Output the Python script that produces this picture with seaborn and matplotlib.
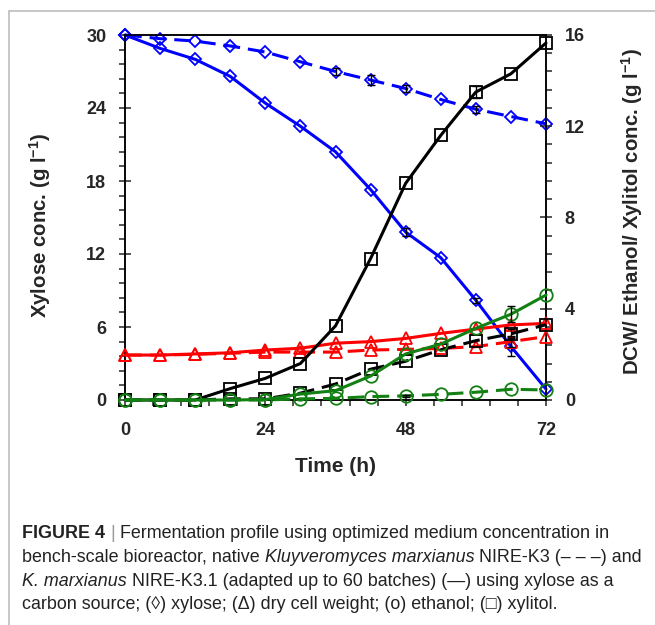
import numpy as np
import pandas as pd
import matplotlib
matplotlib.use("Agg")
import matplotlib.pyplot as plt
import seaborn as sns
from matplotlib.ticker import MultipleLocator
from matplotlib.lines import Line2D

# sampling times (h)
time = [0, 6, 12, 18, 24, 30, 36, 42, 48, 54, 60, 66, 72]

# xylose (left axis, g/l)
xylose_adapted = [30.0, 28.9, 28.0, 26.6, 24.4, 22.5, 20.4, 17.3, 13.8, 11.7, 8.2, 4.4, 0.9]
xylose_native = [30.0, 29.7, 29.5, 29.1, 28.6, 27.8, 27.0, 26.3, 25.6, 24.7, 23.9, 23.3, 22.7]
# xylitol / dcw / ethanol (right axis, g/l)
xylitol_adapted = [0, 0, 0, 0.5, 0.95, 1.6, 3.25, 6.2, 9.5, 11.6, 13.5, 14.3, 15.65]
xylitol_native = [0, 0, 0, 0.05, 0.05, 0.3, 0.7, 1.35, 1.7, 2.2, 2.6, 2.9, 3.3]
dcw_adapted = [1.97, 1.97, 2.02, 2.07, 2.19, 2.27, 2.49, 2.56, 2.7, 2.92, 3.11, 3.29, 3.36]
dcw_native = [1.97, 1.97, 2.0, 2.05, 2.1, 2.1, 2.1, 2.19, 2.22, 2.26, 2.34, 2.56, 2.78]
ethanol_adapted = [0, 0, 0, 0, 0.02, 0.26, 0.41, 1.05, 2.02, 2.45, 3.14, 3.76, 4.6]
ethanol_native = [0, 0, 0, 0, 0, 0.05, 0.07, 0.15, 0.18, 0.25, 0.34, 0.47, 0.44]

# standard deviations (only a few visible)
xylose_adapted_err = [0, 0, 0, 0, 0, 0, 0, 0, 0.3, 0, 0.2, 0.75, 0]
xylose_native_err = [0, 0, 0, 0, 0, 0, 0.3, 0.4, 0.3, 0, 0.3, 0, 0]
xylitol_adapted_err = [0, 0, 0, 0, 0, 0, 0, 0, 0, 0, 0.25, 0, 0]
xylitol_native_err = [0, 0, 0, 0, 0, 0, 0, 0, 0, 0, 0, 0.2, 0]
dcw_adapted_err = [0, 0, 0, 0, 0, 0, 0, 0, 0, 0, 0, 0, 0]
dcw_native_err = [0, 0, 0, 0, 0, 0, 0, 0, 0, 0, 0, 0.25, 0]
ethanol_adapted_err = [0, 0, 0, 0, 0, 0, 0, 0, 0, 0, 0, 0.35, 0]
ethanol_native_err = [0, 0, 0, 0, 0, 0, 0, 0, 0.05, 0, 0, 0, 0]

rows = []
series = {
    ("xylose", "adapted"): (xylose_adapted, xylose_adapted_err),
    ("xylose", "native"): (xylose_native, xylose_native_err),
    ("xylitol", "adapted"): (xylitol_adapted, xylitol_adapted_err),
    ("xylitol", "native"): (xylitol_native, xylitol_native_err),
    ("dcw", "adapted"): (dcw_adapted, dcw_adapted_err),
    ("dcw", "native"): (dcw_native, dcw_native_err),
    ("ethanol", "adapted"): (ethanol_adapted, ethanol_adapted_err),
    ("ethanol", "native"): (ethanol_native, ethanol_native_err),
}
for (comp, strain), (vals, errs) in series.items():
    for t, v, e in zip(time, vals, errs):
        rows.append({"time": t, "value": v, "err": e, "compound": comp, "strain": strain})
df = pd.DataFrame(rows)

sns.set_style("ticks")
plt.rcParams["font.family"] = ["Liberation Sans", "DejaVu Sans"]
plt.rcParams["mathtext.fontset"] = "custom"
plt.rcParams["mathtext.rm"] = "Liberation Sans"
plt.rcParams["mathtext.bf"] = "Liberation Sans:bold"

fig = plt.figure(figsize=(6.55, 6.25), dpi=100)
ax = fig.add_axes([125 / 655, 1 - 400 / 625, 421 / 655, 365 / 625])
ax2 = ax.twinx()

styles = {
    "xylose": (ax, "#0000ff", "D", 6),
    "dcw": (ax2, "#ff0000", "^", 9),
    "xylitol": (ax2, "#000000", "s", 8.5),
    "ethanol": (ax2, "#138013", "o", 9),
}
dash_map = {"adapted": "", "native": (5.5, 2.6)}

for comp in ["xylose", "dcw", "xylitol", "ethanol"]:
    a, color, mk, ms = styles[comp]
    sub = df[df["compound"] == comp]
    sns.lineplot(data=sub, x="time", y="value", style="strain", dashes=dash_map,
                 estimator=None, color=color, marker=mk, markersize=ms,
                 markerfacecolor="none", markeredgecolor=color, markeredgewidth=1.3,
                 linewidth=2.2, legend=False, ax=a, clip_on=False, zorder=3)
    for strain in ["adapted", "native"]:
        s = sub[(sub["strain"] == strain) & (sub["err"] > 0)]
        a.errorbar(s["time"], s["value"], yerr=s["err"], fmt="none", ecolor="black",
                   elinewidth=1, capsize=3, capthick=1, zorder=4)

ax.set_xlim(0, 72)
ax.set_ylim(0, 30)
ax2.set_ylim(0, 16)
ax.xaxis.set_major_locator(MultipleLocator(24))
ax.xaxis.set_minor_locator(MultipleLocator(4.8))
ax.yaxis.set_major_locator(MultipleLocator(6))
ax.yaxis.set_minor_locator(MultipleLocator(1.2))
ax2.yaxis.set_major_locator(MultipleLocator(4))
ax2.yaxis.set_minor_locator(MultipleLocator(0.8))

for a in (ax, ax2):
    for sp in a.spines.values():
        sp.set_linewidth(1.1)
        sp.set_color("black")
    a.tick_params(which="major", direction="inout", length=9, width=1.1, labelsize=13, pad=9)
    a.tick_params(which="minor", direction="out", length=4, width=1.1)
    for lab in a.get_xticklabels() + a.get_yticklabels():
        lab.set_fontweight("bold")
ax.tick_params(axis="x", pad=11)

ax.set_xlabel("Time (h)", fontsize=15, fontweight="bold", labelpad=13)
ax.set_ylabel(r"Xylose conc. (g l$^{\mathbf{-1}}$)", fontsize=14.7, fontweight="bold", labelpad=24)
ax.yaxis.label.set_y(0.478)
ax2.set_ylabel(r"DCW/ Ethanol/ Xylitol conc. (g l$^{\mathbf{-1}}$)", fontsize=14.7,
               fontweight="bold", rotation=90, labelpad=25)
ax2.yaxis.label.set_y(0.516)
ax2.set_xlabel("")

# outer frame
fig.add_artist(Line2D([9 / 655, 9 / 655], [0, 1 - 11 / 625], transform=fig.transFigure,
                      color="#bdbdbd", lw=1.2))
fig.add_artist(Line2D([9 / 655, 1], [1 - 11 / 625, 1 - 11 / 625], transform=fig.transFigure,
                      color="#bdbdbd", lw=1.2))

# caption
cap_lines = [
    [("FIGURE 4", "bold"), (" | ", "bar"), ("Fermentation profile using optimized medium concentration in", "normal")],
    [("bench-scale bioreactor, native ", "normal"), ("Kluyveromyces marxianus", "italic"), (" NIRE-K3 (– – –) and", "normal")],
    [("K. marxianus", "italic"), (" NIRE-K3.1 (adapted up to 60 batches) (—) using xylose as a", "normal")],
    [("carbon source; (◊) xylose; (Δ) dry cell weight; (o) ethanol; (□) xylitol.", "normal")],
]
cap_size = 12.9
renderer = fig.canvas.get_renderer()
space_px = 0.278 * cap_size * 100 / 72
y0 = 625 - 538
for i, parts in enumerate(cap_lines):
    x = 22.0
    y = y0 - i * 23.8
    for txt, kind in parts:
        lead = len(txt) - len(txt.lstrip(" "))
        trail = len(txt) - len(txt.rstrip(" "))
        x += lead * space_px
        kw = dict(fontsize=cap_size, color="#222222", va="baseline", ha="left",
                  family=["Liberation Sans", "DejaVu Sans"], transform=None)
        if kind == "bold":
            kw["fontweight"] = "bold"
        elif kind == "italic":
            kw["fontstyle"] = "italic"
        elif kind == "bar":
            kw["color"] = "#9a9a9a"
        t = fig.text(x, y, txt.strip(" "), **kw)
        x = t.get_window_extent(renderer).x1 + trail * space_px

fig.savefig("out.png", dpi=100)
